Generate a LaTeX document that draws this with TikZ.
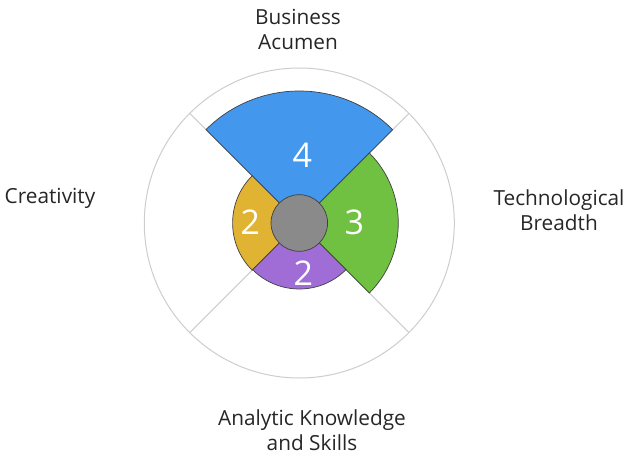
\documentclass[tikz,border=0pt]{standalone}
\usepackage{fontspec}
\setmainfont{Open Sans}
\definecolor{skblue}{RGB}{67,151,237}
\definecolor{skgreen}{RGB}{112,193,65}
\definecolor{skyellow}{RGB}{225,179,51}
\definecolor{skpurple}{RGB}{160,109,214}
\definecolor{skhub}{RGB}{138,138,138}
\definecolor{skrim}{RGB}{205,205,205}

\begin{document}
\begin{tikzpicture}[x=1pt,y=1pt,
    rim/.style={draw=skrim,line width=1},
    wedge/.style={draw=black!75,line width=0.7},
    score/.style={text=white,font=\fontsize{34}{34}\selectfont},
    axis label/.style={text=black!85,align=center,font=\fontsize{20.8}{25}\selectfont}]
  \useasboundingbox (-299.3,-232) rectangle (342.7,223);
  \draw[rim] (0,0) circle[radius=155];
  \foreach \a in {45,135,225,315}
    \draw[rim] (0,0) -- (\a:155);
  \foreach \a/\r/\col in {90/132/skblue,0/99/skgreen,180/66.7/skyellow,270/66/skpurple}
    \filldraw[wedge,fill=\col] (0,0) -- (\a-45:\r) arc[start angle=\a-45,end angle=\a+45,radius=\r] -- cycle;
  \filldraw[wedge,fill=skhub] (0,0) circle[radius=28.3];
  \node[score] (sbusn) at (3,68) {4};
  \node[score] (stech) at (55,1) {3};
  \node[score] (screa) at (-49,1) {2};
  \node[score] (sanal) at (4,-50) {2};
  \node[axis label] (busn) at (-1.3,193.5) {Business\\Acumen};
  \node[axis label] (crea) at (-249.3,25) {Creativity};
  \node[axis label] (tech) at (259.7,13) {Technological\\Breadth};
  \node[axis label] (anal) at (12.7,-207.5) {Analytic Knowledge\\and Skills};
\end{tikzpicture}
\end{document}
